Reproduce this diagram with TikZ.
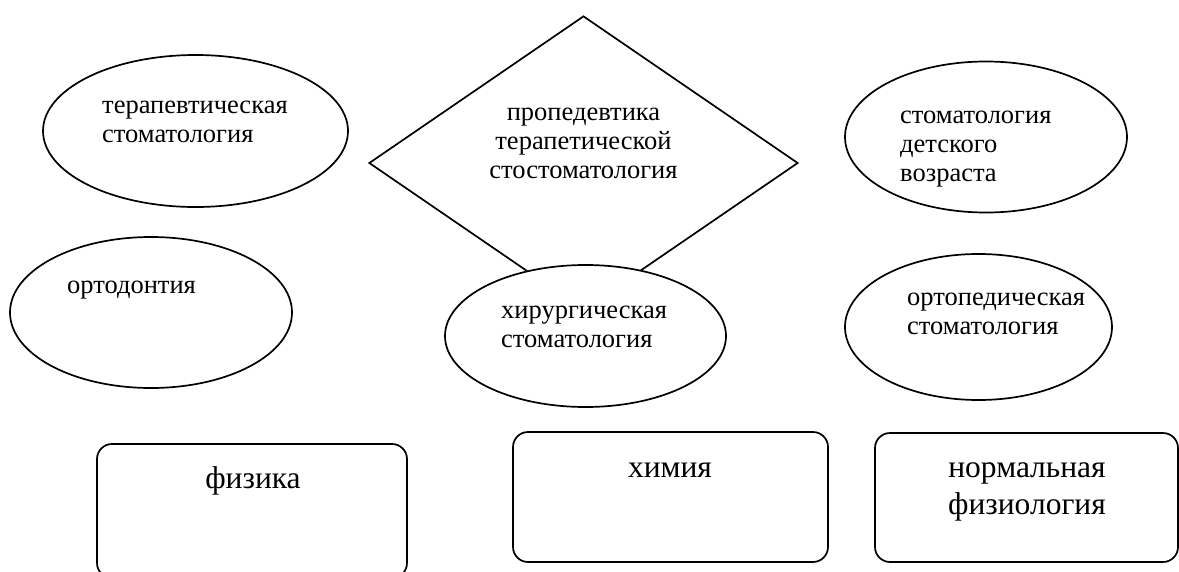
\documentclass[tikz,border=0pt]{standalone}
\usepackage{fontspec}
\setmainfont{Liberation Serif}
\usepackage{tikz}
\usetikzlibrary{shapes,positioning}
\tikzstyle{disc}=[draw,ellipse,fill=white,line width=1.7pt,inner sep=0]
\tikzstyle{core}=[draw,diamond,line width=1.7pt,inner sep=0]
\tikzstyle{subj}=[draw,rectangle,rounded corners=15pt,line width=1.7pt,inner sep=0]
\tikzstyle{txt}=[align=left,inner sep=0,font=\fontsize{26.5}{29}\selectfont]
\tikzstyle{bigtxt}=[align=center,inner sep=0,font=\fontsize{31.5}{37}\selectfont]

\begin{document}
\begin{tikzpicture}[x=1pt,y=-1pt]
\useasboundingbox[fill=white] (0,0) rectangle (1179,571);
	\node[core,minimum width=429pt,minimum height=294pt] (pr) at (583.5,163) {};
	\node[disc,minimum width=305pt,minimum height=152pt] (te) at (195.5,131) {};
	\node[disc,minimum width=282pt,minimum height=151pt] (od) at (151,312.5) {};
	\node[disc,minimum width=281pt,minimum height=142pt] (hi) at (585.5,336) {};
	\node[disc,minimum width=282pt,minimum height=151pt] (de) at (986,137) {};
	\node[disc,minimum width=267pt,minimum height=146pt] (op) at (978.5,327) {};
	
	\node[subj,minimum width=310pt,minimum height=134pt] (fi) at (252,511) {};
	\node[subj,minimum width=315pt,minimum height=130pt] (ch) at (670.5,497) {};
	\node[subj,minimum width=303pt,minimum height=129pt] (no) at (1026.5,497.5) {};
	
	% base = baseline of the last line
	\node[txt,anchor=base west] (teT) at (102,142) {терапевтическая\\стоматология};
	\node[txt,align=center,anchor=base] (prT) at (583.5,178) {пропедевтика\\терапетической\\стостоматология};
	\node[txt,anchor=base west] (odT) at (67,293) {ортодонтия};
	\node[txt,anchor=base west] (hiT) at (501,347) {хирургическая\\стоматология};
	\node[txt,anchor=base west] (deT) at (900,181) {стоматология\\детского\\возраста};
	\node[txt,anchor=base west] (opT) at (907,334) {ортопедическая\\стоматология};
	
	\node[bigtxt,anchor=base] (fiT) at (253,488) {физика};
	\node[bigtxt,anchor=base] (chT) at (670,477) {химия};
	\node[bigtxt,anchor=base] (noT) at (1027,514) {нормальная\\физиология};
\end{tikzpicture}
\end{document}
